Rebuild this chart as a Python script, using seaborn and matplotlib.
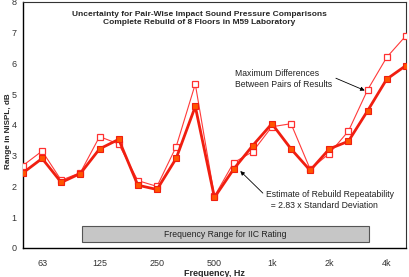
import matplotlib
matplotlib.use("Agg")
import matplotlib.pyplot as plt
import matplotlib.patches as mpatches
from matplotlib.ticker import MultipleLocator
import seaborn as sns
import pandas as pd

# third-octave bands, 50 Hz .. 5 kHz
bands = [50, 63, 80, 100, 125, 160, 200, 250, 315, 400, 500,
         630, 800, 1000, 1250, 1600, 2000, 2500, 3150, 4000, 5000]
max_diff = [2.68, 3.15, 2.20, 2.45, 3.62, 3.38, 2.19, 2.00, 3.29, 5.33, 1.68,
            2.77, 3.13, 3.94, 4.04, 2.56, 3.07, 3.80, 5.14, 6.20, 6.90]
repeatability = [2.44, 2.91, 2.13, 2.42, 3.22, 3.53, 2.04, 1.90, 2.91, 4.60, 1.64,
                 2.56, 3.33, 4.04, 3.22, 2.52, 3.22, 3.47, 4.46, 5.49, 5.93]
tick_bands = [63, 125, 250, 500, 1000, 2000, 4000]
tick_labels = ['63', '125', '250', '500', '1k', '2k', '4k']
iic_range = (100, 3150)

df = pd.DataFrame({'idx': range(len(bands)), 'band': bands,
                   'max': max_diff, 'rep': repeatability})

sns.set_theme(style="white")
plt.rcParams['font.family'] = ['Liberation Sans', 'DejaVu Sans']

fig = plt.figure(figsize=(4.1, 2.77), dpi=100)
ax = fig.add_axes([0.056, 0.105, 0.934, 0.888])

sns.lineplot(data=df, x='idx', y='max', ax=ax, color='#ff3a3a', linewidth=0.8,
             marker='s', markersize=5, markerfacecolor='white',
             markeredgecolor='#ff3030', markeredgewidth=0.9, zorder=3)
sns.lineplot(data=df, x='idx', y='rep', ax=ax, color='#f01e10', linewidth=2.0,
             marker='s', markersize=5, markerfacecolor='#ff5500',
             markeredgecolor='#f01e10', markeredgewidth=0.8, zorder=4)

# IIC rating band
x0 = bands.index(iic_range[0]) + 0.1
x1 = bands.index(iic_range[1]) + 0.07
ax.add_patch(mpatches.Rectangle((x0, 0.2), x1 - x0, 0.5, facecolor='#c6c6c6',
                                edgecolor='#555555', linewidth=0.8, zorder=2))
ax.text((x0 + x1) / 2, 0.45, 'Frequency Range for IIC Rating', ha='center',
        va='center', fontsize=6.2, color='#222222', zorder=3)

ax.set_xlim(0, len(bands) - 1)
ax.set_ylim(0, 8)
ax.set_xticks([bands.index(b) for b in tick_bands])
ax.set_xticklabels(tick_labels)
ax.set_xticks(range(len(bands)), minor=True)
ax.yaxis.set_major_locator(MultipleLocator(1))
ax.yaxis.set_minor_locator(MultipleLocator(0.2))
ax.tick_params(axis='x', which='both', direction='out', length=3, width=0.6,
               labelsize=6.5, pad=5, colors='#333333')
ax.tick_params(axis='x', which='minor', length=3)
ax.tick_params(axis='y', which='major', direction='inout', length=5, width=0.6,
               labelsize=6.5, pad=2, colors='#333333')
ax.tick_params(axis='y', which='minor', direction='in', length=2.5, width=0.5)

for s in ['left', 'bottom']:
    ax.spines[s].set_color('black')
    ax.spines[s].set_linewidth(1.0)
for s in ['top', 'right']:
    ax.spines[s].set_color('#333333')
    ax.spines[s].set_linewidth(0.8)

ax.set_xlabel('Frequency, Hz', fontsize=6.5, fontweight='bold', labelpad=1)
ax.set_ylabel('Range in NISPL, dB', fontsize=5.9, fontweight='bold', va='center')
ax.yaxis.set_label_coords(-0.039, 0.475)

ax.text(0.46, 0.965, 'Uncertainty for Pair-Wise Impact Sound Pressure Comparisons\n'
        'Complete Rebuild of 8 Floors in M59 Laboratory', transform=ax.transAxes,
        ha='center', va='top', fontsize=6.0, fontweight='bold', linespacing=1.35)

ax.annotate('Maximum Differences\nBetween Pairs of Results',
            xy=(18 - 0.15, max_diff[18] - 0.02), xytext=(11.1, 5.5),
            fontsize=6.2, color='#222222', va='center', ha='left', linespacing=1.25,
            arrowprops=dict(arrowstyle='-|>', color='black', lw=0.6,
                            mutation_scale=6, shrinkA=0, shrinkB=0,
                            relpos=(1.0, 0.6)))
ax.annotate('Estimate of Rebuild Repeatability\n  = 2.83 x Standard Deviation',
            xy=(11.35, 2.5), xytext=(12.7, 1.55),
            fontsize=6.2, color='#222222', va='center', ha='left', linespacing=1.25,
            arrowprops=dict(arrowstyle='-|>', color='black', lw=0.6,
                            mutation_scale=6, shrinkA=0, shrinkB=0,
                            relpos=(0.0, 0.7)))

fig.savefig('out.png', dpi=100)
